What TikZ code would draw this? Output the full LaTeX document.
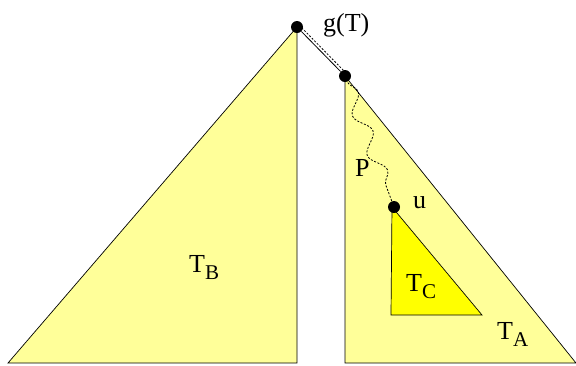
\documentclass[tikz,border=0pt]{standalone}
\usepackage{fontspec}
\setmainfont{Liberation Serif}
\usetikzlibrary{decorations.pathmorphing}

\definecolor{paleyellow}{RGB}{255,255,153}
\definecolor{fullyellow}{RGB}{255,255,0}

\newcommand{\treelbl}[2]{#1\raisebox{-7pt}{\fontsize{21}{24}\selectfont #2}}

\tikzset{
  treetri/.style={draw=black, fill=paleyellow, line width=0.7pt, line join=miter},
  subtri/.style={draw=black, fill=fullyellow, line width=0.7pt},
  vertex/.style={circle, fill=black, minimum size=12pt, inner sep=0pt},
  dotline/.style={dash pattern=on 2pt off 1.6pt, line width=0.8pt},
  lbl/.style={anchor=base west, inner sep=0pt}
}

\begin{document}
\begin{tikzpicture}[x=1pt, y=-1pt, every node/.style={font=\fontsize{26}{30}\selectfont}]
  \useasboundingbox (0,0) rectangle (576,365);

  %% ---------- LEFT: tree T_B ----------
  \coordinate (bl) at (8,363);
  \coordinate (br) at (297,363);
  \draw[treetri] (bl) -- (297,27) -- (br) -- cycle;

  %% ---------- RIGHT: tree T_A ----------
  \coordinate (al) at (345,363);
  \coordinate (ar) at (576,363);
  \draw[treetri] (345,76) -- (ar) -- (al) -- cycle;

  %% ---------- inner subtree T_C ----------
  \coordinate (cl) at (391,315);
  \coordinate (cr) at (482,315);
  \draw[subtri] (392,207) -- (cr) -- (cl) -- cycle;

  %% ---------- vertices ----------
  \node[vertex] (g) at (297,27) {};
  \node[vertex] (r) at (345,76) {};
  \node[vertex] (u) at (394,207) {};

  % edge g(T) -- root of T_A, with its dotted twin
  \draw[line width=0.8pt] (g) -- (r);
  \draw[dotline, transform canvas={shift={(2.2pt,1.8pt)}}] (g.center) -- (r.center);

  % path P
  \draw[dotline, decorate, decoration={snake, segment length=42pt, amplitude=7pt,
      pre length=6pt, post length=6pt}] (r.center) -- (u.center);

  %% ---------- labels ----------
  \node[lbl] (lg) at (323,31) {g(T)};
  \node[lbl] (lp) at (355,176) {P};
  \node[lbl] (lu) at (413,208) {u};
  \node[lbl] (lb) at (189,272) {\treelbl{T}{B}};
  \node[lbl] (lc) at (406,291) {\treelbl{T}{C}};
  \node[lbl] (la) at (497,339) {\treelbl{T}{A}};
\end{tikzpicture}
\end{document}
